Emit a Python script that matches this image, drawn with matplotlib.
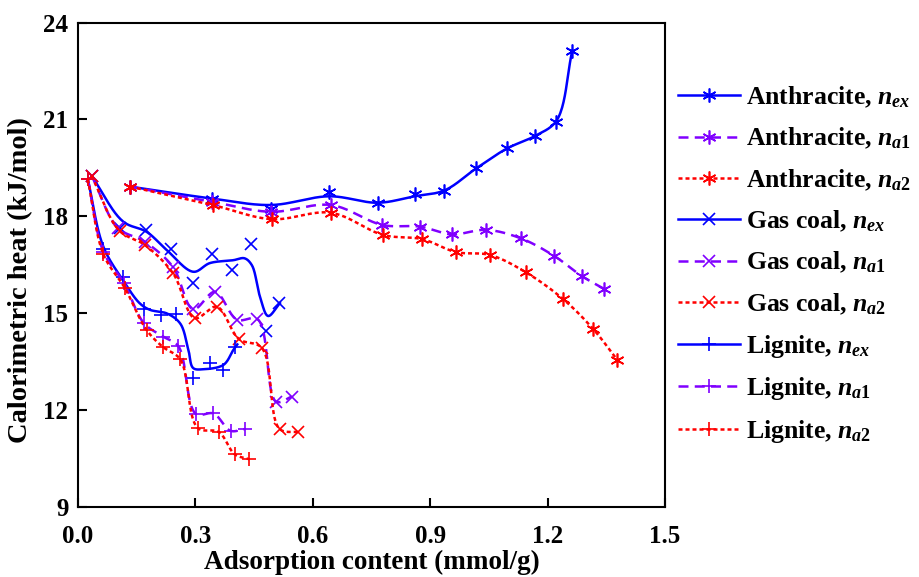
import numpy as np
import matplotlib
matplotlib.use('Agg')
import matplotlib.pyplot as plt

plt.rcParams['font.family'] = 'Liberation Serif'
plt.rcParams['font.weight'] = 'bold'
plt.rcParams['mathtext.fontset'] = 'custom'
plt.rcParams['mathtext.rm'] = 'Liberation Serif:bold'
plt.rcParams['mathtext.it'] = 'Liberation Serif:italic:bold'
plt.rcParams['mathtext.bf'] = 'Liberation Serif:bold'

# anthracite
ant_x_ex = [0.133, 0.342, 0.493, 0.642, 0.766, 0.860, 0.936, 1.017, 1.096, 1.168, 1.222, 1.263]
ant_y_ex = [18.92, 18.53, 18.22, 18.76, 18.40, 18.68, 18.77, 19.50, 20.13, 20.49, 20.91, 23.13]
ant_x_a1 = [0.133, 0.342, 0.493, 0.646, 0.778, 0.874, 0.955, 1.043, 1.131, 1.217, 1.287, 1.343]
ant_y_a1 = [18.92, 18.45, 18.14, 18.35, 17.73, 17.68, 17.44, 17.58, 17.32, 16.77, 16.15, 15.76]
ant_x_a2 = [0.133, 0.344, 0.495, 0.646, 0.780, 0.880, 0.966, 1.053, 1.145, 1.240, 1.317, 1.378]
ant_y_a2 = [18.92, 18.35, 17.91, 18.11, 17.42, 17.29, 16.89, 16.80, 16.26, 15.43, 14.50, 13.55]
# anthracite n_ex curve as drawn
ant_cx = [0.133, 0.342, 0.493, 0.642, 0.766, 0.860, 0.936, 1.017, 1.096, 1.168, 1.222, 1.263]
ant_cy = [18.92, 18.55, 18.35, 18.62, 18.42, 18.62, 18.80, 19.48, 20.10, 20.49, 20.95, 23.13]

# gas coal
gas_x_ex = [0.035, 0.106, 0.173, 0.238, 0.293, 0.342, 0.394, 0.441, 0.480, 0.514]
gas_y_ex = [19.25, 17.63, 17.58, 17.00, 15.94, 16.83, 16.33, 17.13, 14.44, 15.30]
gas_x_a1 = [0.035, 0.103, 0.171, 0.242, 0.295, 0.350, 0.407, 0.458, 0.507, 0.546]
gas_y_a1 = [19.25, 17.63, 17.21, 16.44, 15.12, 15.66, 14.79, 14.82, 12.25, 12.41]
gas_x_a2 = [0.035, 0.106, 0.171, 0.243, 0.299, 0.354, 0.412, 0.469, 0.516, 0.563]
gas_y_a2 = [19.25, 17.55, 17.11, 16.23, 14.84, 15.20, 14.19, 13.93, 11.40, 11.31]
# gas coal n_ex curve as drawn
gas_cx = [0.035, 0.116, 0.175, 0.227, 0.295, 0.337, 0.397, 0.425, 0.444, 0.465, 0.486, 0.516]
gas_cy = [19.25, 17.83, 17.52, 16.95, 16.28, 16.55, 16.64, 16.70, 16.49, 15.51, 14.91, 15.31]

# lignite
lig_x_ex = [0.025, 0.065, 0.116, 0.169, 0.211, 0.250, 0.295, 0.336, 0.371, 0.401]
lig_y_ex = [19.15, 16.98, 16.13, 15.12, 14.94, 14.96, 12.98, 13.44, 13.24, 13.96]
lig_x_a1 = [0.025, 0.065, 0.118, 0.169, 0.218, 0.256, 0.302, 0.346, 0.390, 0.427]
lig_y_a1 = [19.15, 16.90, 15.92, 14.68, 14.27, 13.98, 11.87, 11.89, 11.35, 11.41]
lig_x_a2 = [0.025, 0.065, 0.120, 0.175, 0.216, 0.261, 0.307, 0.359, 0.401, 0.438]
lig_y_a2 = [19.15, 16.82, 15.77, 14.48, 13.96, 13.57, 11.43, 11.32, 10.62, 10.47]
# lignite n_ex curve as drawn
lig_cx = [0.025, 0.065, 0.116, 0.158, 0.184, 0.227, 0.261, 0.282, 0.295, 0.320, 0.371, 0.397, 0.407]
lig_cy = [19.15, 17.05, 16.00, 15.30, 15.10, 14.99, 14.68, 13.86, 13.29, 13.26, 13.39, 13.86, 14.03]


def smooth(x, y, n=24):
    # centripetal Catmull-Rom through the given points (screen-ish scaling)
    p = np.column_stack([np.asarray(x) / 1.5, (np.asarray(y) - 9) / 15.0])
    p = np.vstack([2 * p[0] - p[1], p, 2 * p[-1] - p[-2]])
    out = []
    for i in range(1, len(p) - 2):
        P0, P1, P2, P3 = p[i - 1], p[i], p[i + 1], p[i + 2]
        t0 = 0.0
        t1 = t0 + np.linalg.norm(P1 - P0) ** 0.5 + 1e-9
        t2 = t1 + np.linalg.norm(P2 - P1) ** 0.5 + 1e-9
        t3 = t2 + np.linalg.norm(P3 - P2) ** 0.5 + 1e-9
        t = np.linspace(t1, t2, n, endpoint=False)[:, None]
        A1 = (t1 - t) / (t1 - t0) * P0 + (t - t0) / (t1 - t0) * P1
        A2 = (t2 - t) / (t2 - t1) * P1 + (t - t1) / (t2 - t1) * P2
        A3 = (t3 - t) / (t3 - t2) * P2 + (t - t2) / (t3 - t2) * P3
        B1 = (t2 - t) / (t2 - t0) * A1 + (t - t0) / (t2 - t0) * A2
        B2 = (t3 - t) / (t3 - t1) * A2 + (t - t1) / (t3 - t1) * A3
        out.append((t2 - t) / (t2 - t1) * B1 + (t - t1) / (t2 - t1) * B2)
    out.append(p[-2][None, :])
    out = np.vstack(out)
    return out[:, 0] * 1.5, out[:, 1] * 15.0 + 9


blue = '#0000ff'
purple = '#8000ff'
red = '#ff0000'
ast = (6, 2, 0)
styles = {
    'ex': dict(color=blue, ls='-', lw=1.8),
    'a1': dict(color=purple, ls=(0, (4, 2.5)), lw=1.8),
    'a2': dict(color=red, ls=(0, (1.6, 1.2)), lw=1.8),
}
sub = {'ex': r'$n_{ex}$', 'a1': r'$n_{a\mathrm{1}}$', 'a2': r'$n_{a\mathrm{2}}$'}

fig = plt.figure(figsize=(9.19, 5.77), dpi=100)
ax = fig.add_axes([0.0849, 0.1218, 0.6387, 0.8389])

series = [
    ('Anthracite', 'ex', ant_x_ex, ant_y_ex, ast, (ant_cx, ant_cy)),
    ('Anthracite', 'a1', ant_x_a1, ant_y_a1, ast, None),
    ('Anthracite', 'a2', ant_x_a2, ant_y_a2, ast, None),
    ('Gas coal', 'ex', gas_x_ex, gas_y_ex, 'x', (gas_cx, gas_cy)),
    ('Gas coal', 'a1', gas_x_a1, gas_y_a1, 'x', None),
    ('Gas coal', 'a2', gas_x_a2, gas_y_a2, 'x', None),
    ('Lignite', 'ex', lig_x_ex, lig_y_ex, '+', (lig_cx, lig_cy)),
    ('Lignite', 'a1', lig_x_a1, lig_y_a1, '+', None),
    ('Lignite', 'a2', lig_x_a2, lig_y_a2, '+', None),
]

handles = []
for name, kind, xs, ys, mk, curve in series:
    st = styles[kind]
    cx, cy = curve if curve is not None else (xs, ys)
    sx, sy = smooth(cx, cy)
    ax.plot(sx, sy, **st)
    ms = 10 if mk != 'x' else 9
    ax.plot(xs, ys, ls='none', marker=mk, ms=ms, mew=1.2, color=st['color'])
    h, = ax.plot([], [], marker=mk, ms=ms, mew=1.2, label=f'{name}, ' + sub[kind], **st)
    handles.append(h)

ax.set_xlim(0, 1.5)
ax.set_ylim(9, 24)
ax.set_xticks([0.0, 0.3, 0.6, 0.9, 1.2, 1.5])
ax.set_yticks([9, 12, 15, 18, 21, 24])
ax.xaxis.set_major_formatter(matplotlib.ticker.FormatStrFormatter('%.1f'))
ax.tick_params(direction='in', length=6.5, width=1.5, labelsize=18)
ax.tick_params(axis='x', pad=13.5)
ax.tick_params(axis='y', pad=7)
for s in ax.spines.values():
    s.set_linewidth(1.5)
ax.set_xlabel('Adsorption content (mmol/g)', fontsize=19.5, fontweight='bold', labelpad=1)
ax.set_ylabel('Calorimetric heat (kJ/mol)', fontsize=20.5, fontweight='bold')
ax.yaxis.set_label_coords(-0.077, 0.468)

fig.legend(handles=handles, loc='upper left', bbox_to_anchor=(0.727, 0.871), frameon=False,
           fontsize=18.5, handlelength=2.4, handletextpad=0.25, labelspacing=0.62,
           borderaxespad=0)

fig.savefig('out.png', dpi=100)
